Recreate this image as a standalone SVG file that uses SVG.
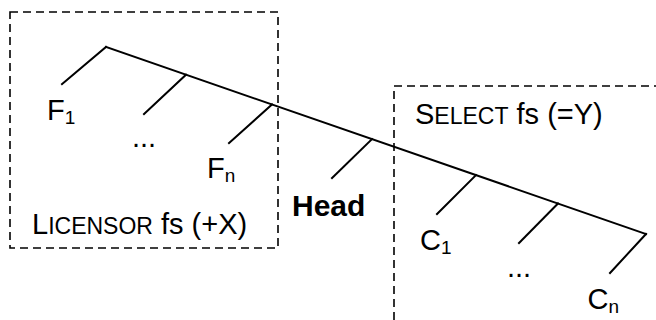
<svg xmlns="http://www.w3.org/2000/svg" width="656" height="320" viewBox="0 0 656 320">
<style>
.t{font-family:"Liberation Sans",Arial,sans-serif;font-size:29px;fill:#000}
.sc{font-size:23px}
.sub{font-size:19px}
.b{font-weight:bold;font-size:30px}
.ln{stroke:#000;stroke-width:2;fill:none;stroke-linecap:square}
.box{stroke:#000;stroke-width:1.6;fill:none;stroke-dasharray:8 5}
</style>
<rect width="656" height="320" fill="#fff"/>
<g id="licensor-box"><rect class="box" x="10" y="12" width="268" height="236"/>
<text class="t" x="32" y="234">L<tspan class="sc">ICENSOR</tspan> fs (+X)</text></g>
<g id="select-box"><path class="box" d="M394,320 V86 H656"/>
<text class="t" x="415" y="124">S<tspan class="sc">ELECT</tspan> fs (=Y)</text></g>
<g id="connectors">
<path class="ln" d="M106,47 L646,234"/>
<path class="ln" d="M106,47 L62,84"/>
<path class="ln" d="M186,74.7 L144,114"/>
<path class="ln" d="M272,104.5 L229,143"/>
<path class="ln" d="M372,139.1 L332,178"/>
<path class="ln" d="M476,175.1 L437,214"/>
<path class="ln" d="M558,203.5 L519,243"/>
<path class="ln" d="M646,234 L610,273"/>
</g>
<g id="F1"><text class="t" x="47" y="119.5">F<tspan class="sub" dy="4">1</tspan></text></g>
<g id="dots-left"><text class="t" x="132" y="147">...</text></g>
<g id="Fn"><text class="t" x="207" y="178">F<tspan class="sub" dy="4">n</tspan></text></g>
<g id="head"><text class="t b" x="292" y="216">Head</text></g>
<g id="C1"><text class="t" x="420" y="249.5">C<tspan class="sub" dy="4">1</tspan></text></g>
<g id="dots-right"><text class="t" x="507" y="277">...</text></g>
<g id="Cn"><text class="t" x="587.5" y="309">C<tspan class="sub" dy="4">n</tspan></text></g>
</svg>
